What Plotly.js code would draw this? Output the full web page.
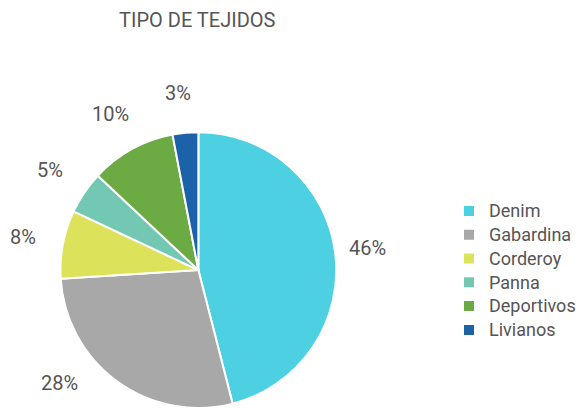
<!DOCTYPE html>
<html>
<head>
<meta charset="utf-8">
<script src="https://cdn.plot.ly/plotly-3.0.1.min.js"></script>
<style>html,body{margin:0;padding:0;background:#fff;}#chart{width:581px;height:408px;}</style>
</head>
<body>
<div id="chart"></div>
<script>
var categories = ["Denim", "Gabardina", "Corderoy", "Panna", "Deportivos", "Livianos"];
var values = [46, 28, 8, 5, 10, 3];
var colors = ["#4dd0e1", "#a8a8a8", "#dce35b", "#72c8b2", "#6cab44", "#1b62a8"];

var FONT = "Roboto, 'Noto Sans', sans-serif";
var W = 581, H = 408;

var legendLabels = categories.map(function (c) {
  return "<span style='font-size:18px'>" + c + "</span>";
});

var trace = {
  type: "pie",
  labels: legendLabels,
  values: values,
  sort: false,
  direction: "clockwise",
  rotation: 0,
  marker: {colors: colors, line: {color: "#ffffff", width: 2}},
  textinfo: "none",
  hoverinfo: "label+percent",
  domain: {x: [0.104, 0.592], y: [0, 0.676]},
  automargin: false
};

var layout = {
  width: W,
  height: H,
  margin: {l: 0, r: 0, t: 0, b: 0},
  paper_bgcolor: "#ffffff",
  title: {
    text: "TIPO DE TEJIDOS",
    x: 0.205, xanchor: "left",
    y: 0.95, yanchor: "middle",
    font: {family: FONT, size: 20, color: "#555555"}
  },
  showlegend: true,
  legend: {
    x: 0.788, xanchor: "left",
    y: 0.337, yanchor: "middle",
    font: {family: FONT, size: 16, color: "#555555"},
    itemwidth: 30,
    tracegroupgap: 0
  }
};

var gd = document.getElementById("chart");
Plotly.newPlot(gd, [trace], layout, {displayModeBar: false, staticPlot: true}).then(function () {
  var cd0 = gd.calcdata[0][0];
  var cx = cd0.cx, cy = cd0.cy, r = cd0.r;
  var total = values.reduce(function (a, b) { return a + b; }, 0);
  var rl = r * 1.29;
  var maxY = H - 25;
  var cum = 0;
  var annotations = values.map(function (v) {
    var mid = (cum + v / 2) / total;
    cum += v;
    var ang = mid * 2 * Math.PI;
    var dx = Math.sin(ang) * rl;
    var dy = -Math.cos(ang) * rl;
    if (cy + dy > maxY) {
      dy = maxY - cy;
      dx = (dx < 0 ? -1 : 1) * Math.sqrt(Math.max(rl * rl - dy * dy, 0));
    }
    return {
      xref: "paper", yref: "paper",
      x: (cx + dx) / W, y: 1 - (cy + dy) / H,
      xanchor: "center", yanchor: "middle",
      showarrow: false,
      text: Math.round(v / total * 100) + "%",
      font: {family: FONT, size: 20, color: "#555555"}
    };
  });
  return Plotly.relayout(gd, {annotations: annotations});
});
</script>
</body>
</html>
